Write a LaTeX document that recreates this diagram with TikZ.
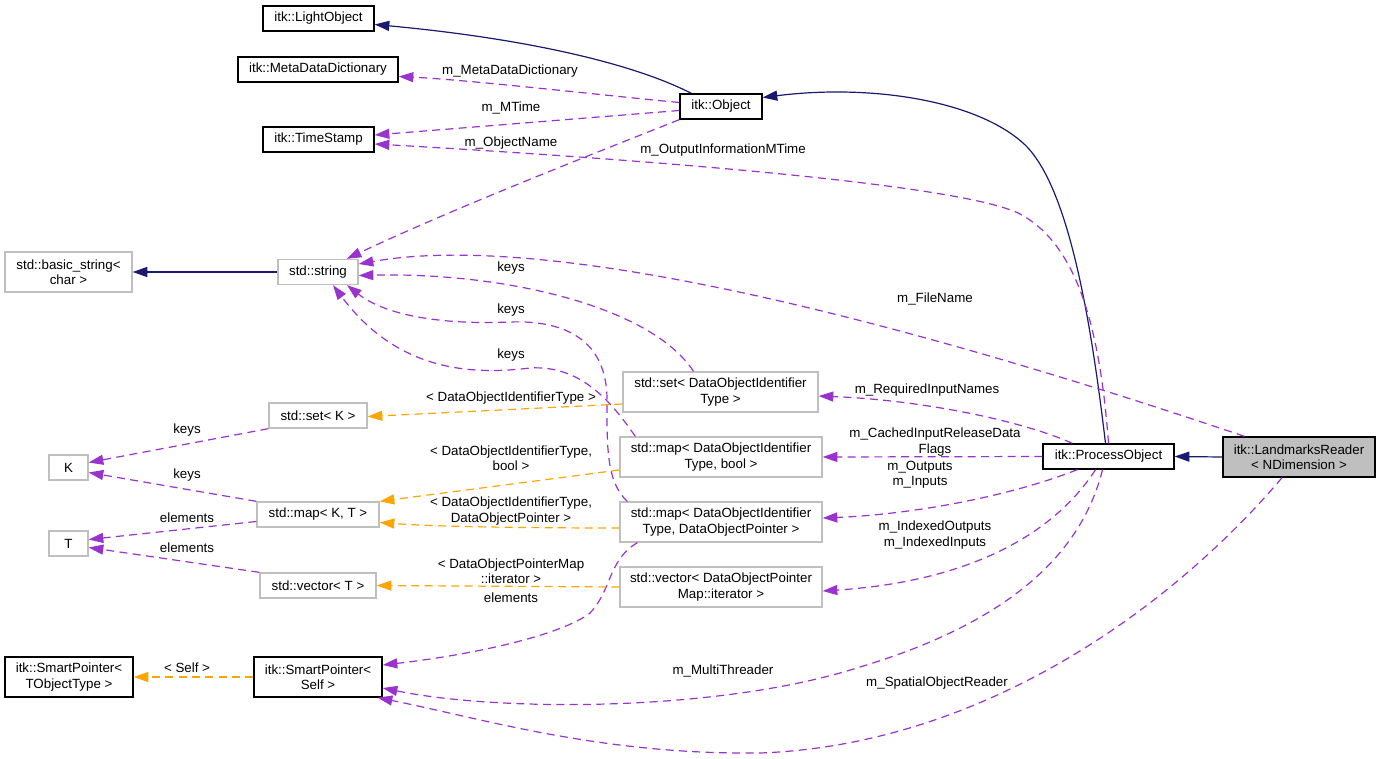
\documentclass[tikz,border=0pt]{standalone}
\usepackage{fontspec}
\setmainfont{Liberation Sans}
\definecolor{dxnavy}{RGB}{25,25,112}
\definecolor{dxorchid}{RGB}{154,50,205}
\definecolor{dxorange}{RGB}{255,165,0}
\definecolor{dxgray}{RGB}{191,191,191}
\usetikzlibrary{arrows.meta,calc}

\begin{document}
\begin{tikzpicture}[x=0.75pt, y=-0.75pt,
    cbox/.style={rectangle, draw=black, line width=1pt, inner sep=1pt, align=center,
      minimum height=18.75pt, font=\fontsize{10}{11.5}\selectfont},
    gbox/.style={cbox, draw=dxgray},
    tall/.style={minimum height=30pt},
    lbl/.style={align=center, inner sep=0pt, font=\fontsize{10}{11.5}\selectfont},
    inh/.style={-{Triangle[length=11pt,width=7.5pt]}, line width=0.9pt, dxnavy},
    usage/.style={-{Triangle[length=11pt,width=7.5pt]}, line width=0.9pt, dxorchid, dash pattern=on 6pt off 4pt},
    tmpl/.style={usage, dxorange}
  ]
  \useasboundingbox (0,0) rectangle (1380,759);

  \node[cbox, minimum width=83.25pt]  (lightobj) at (318.5,18.5) {itk::LightObject};
  \node[cbox, minimum width=120pt]    (meta)     at (318,69.5)   {itk::MetaDataDictionary};
  \node[cbox, minimum width=83.25pt]  (tstamp)   at (318.5,139.5) {itk::TimeStamp};
  \node[gbox, tall, minimum width=95.25pt] (bstr) at (68.5,272)  {std::basic\_string<\\char >};
  \node[gbox, minimum width=60pt]     (str)      at (318,272)    {std::string};
  \node[cbox, minimum width=61.5pt]   (obj)      at (721,106.5)  {itk::Object};
  \node[gbox, minimum width=73.5pt]   (setk)     at (318,415.5)  {std::set< K >};
  \node[gbox, minimum width=29.25pt]  (kk)       at (68.5,467.5) {K};
  \node[gbox, minimum width=91.5pt]   (mapkt)    at (318,514.5)  {std::map< K, T >};
  \node[gbox, minimum width=29.25pt]  (tt)       at (68.5,543.5) {T};
  \node[gbox, minimum width=87pt]     (vect)     at (318,585.5)  {std::vector< T >};
  \node[cbox, tall, minimum width=96pt] (spto)   at (69,677)     {itk::SmartPointer<\\TObjectType >};
  \node[cbox, tall, minimum width=96pt] (spself) at (318,677)    {itk::SmartPointer<\\Self >};
  \node[gbox, tall, minimum width=146.25pt] (setdoi) at (720.5,392) {std::set< DataObjectIdentifier\\Type >};
  \node[gbox, tall, minimum width=151.5pt] (mapbool) at (721,457) {std::map< DataObjectIdentifier\\Type, bool >};
  \node[gbox, tall, minimum width=151.5pt] (mapdop)  at (721,522) {std::map< DataObjectIdentifier\\Type, DataObjectPointer >};
  \node[gbox, tall, minimum width=151.5pt] (vectdop) at (721,587) {std::vector< DataObjectPointer\\Map::iterator >};
  \node[cbox, minimum width=98.25pt]  (proc)     at (1108.5,456.5) {itk::ProcessObject};
  \node[cbox, tall, fill=dxgray, minimum width=114pt] (reader) at (1299,457) {itk::LandmarksReader\\< NDimension >};

  % inheritance
  \draw[inh] ($(obj.north west)+(12,0)$) .. controls (630,62) and (520,38) .. ($(lightobj.east)+(0,6)$);
  \draw[inh] ($(proc.north)+(-3,0)$) .. controls (1092,330) and (1070,185) .. (1023,143)
    .. controls (975,100) and (870,84) .. ($(obj.east)+(0,-9)$);
  \draw[inh] (reader.west) -- (proc.east);
  \draw[inh] (str.west) -- (bstr.east);

  % members
  \draw[usage] ($(obj.west)+(0,-4)$) .. controls (600,95) and (470,80) .. ($(meta.east)+(0,7)$);
  \draw[usage] ($(obj.west)+(0,4)$) -- ($(tstamp.east)+(0,-4.5)$);
  \draw[usage] (proc.north) .. controls (1100,330) and (1078,245) .. (1020,214)
    .. controls (960,183) and (620,158) .. ($(tstamp.east)+(0,4.5)$);
  \draw[usage] (obj.south west) .. controls (590,155) and (450,210) .. ($(str.north east)+(-12,0)$);
  \draw[usage] ($(reader.north west)+(22,0)$) .. controls (900,320) and (550,230) .. ($(str.east)+(0,-8)$);
  \draw[usage] ($(setdoi.north)+(-27,0)$) .. controls (650,305) and (500,272) .. ($(str.east)+(0,3.5)$);
  \draw[usage] ($(mapdop.north west)+(8,0)$) .. controls (606,482) and (607,445) .. (607,400)
    .. controls (607,340) and (565,320) .. (510,322) .. controls (440,325) and (385,315) .. ($(str.south)+(29,0)$);
  \draw[usage] ($(mapbool.north west)+(16,0)$) .. controls (610,400) and (580,365) .. (530,368)
    .. controls (465,376) and (395,368) .. ($(str.south)+(15,0)$);
  \draw[usage] (setk.south west) -- ($(kk.east)+(0,-5)$);
  \draw[usage] (mapkt.north west) -- ($(kk.east)+(0,5)$);
  \draw[usage] ($(mapkt.west)+(0,7)$) -- ($(tt.east)+(0,-4)$);
  \draw[usage] (vect.north west) -- ($(tt.east)+(0,4)$);
  \draw[usage] ($(mapdop.south west)+(18,0)$) .. controls (608,560) and (612,590) .. (590,613)
    .. controls (560,636) and (470,655) .. ($(spself.east)+(0,-12)$);
  \draw[usage] ($(proc.south)+(-6,0)$) .. controls (1080,560) and (1000,625) .. (860,667)
    .. controls (720,712) and (500,712) .. ($(spself.east)+(0,11)$);
  \draw[usage] ($(reader.south)+(-17,0)$) .. controls (1170,610) and (980,745) .. (760,753)
    .. controls (600,755) and (480,718) .. ($(spself.south east)+(-5,0)$);
  \draw[usage] ($(proc.north west)+(30,0)$) .. controls (1020,420) and (920,400) .. ($(setdoi.east)+(0,4)$);
  \draw[usage] (proc.west) -- (mapbool.east);
  \draw[usage] ($(proc.south west)+(35,0)$) .. controls (1000,500) and (900,515) .. ($(mapdop.east)+(0,-4)$);
  \draw[usage] ($(proc.south)+(-13,0)$) .. controls (1050,540) and (960,582) .. ($(vectdop.east)+(0,4)$);

  % template instances
  \draw[tmpl] ($(setdoi.west)+(0,12)$) -- ($(setk.east)+(0,1)$);
  \draw[tmpl] ($(mapbool.west)+(0,13)$) -- (mapkt.north east);
  \draw[tmpl] ($(mapdop.west)+(0,6)$) .. controls (540,528) and (440,527) .. ($(mapkt.east)+(0,8)$);
  \draw[tmpl] (vectdop.west) -- (vect.east);
  \draw[tmpl] (spself.west) -- (spto.east);

  % edge labels
  \node[lbl] (lmeta)   at (510,71)  {m\_MetaDataDictionary};
  \node[lbl] (lmtime)  at (511,108) {m\_MTime};
  \node[lbl] (lname)   at (511,143) {m\_ObjectName};
  \node[lbl] (loutmt)  at (723,150) {m\_OutputInformationMTime};
  \node[lbl] (lfile)   at (935,299) {m\_FileName};
  \node[lbl] (lkeys1)  at (511,268) {keys};
  \node[lbl] (lkeys2)  at (511,310) {keys};
  \node[lbl] (lkeys3)  at (511,355) {keys};
  \node[lbl] (lkeys4)  at (187,430) {keys};
  \node[lbl] (lkeys5)  at (187,475) {keys};
  \node[lbl] (lelem1)  at (187,518) {elements};
  \node[lbl] (lelem2)  at (187,548) {elements};
  \node[lbl] (lelem3)  at (511,598) {elements};
  \node[lbl] (ltset)   at (511,398) {< DataObjectIdentifierType >};
  \node[lbl] (ltbool)  at (511,458) {< DataObjectIdentifierType,\\bool >};
  \node[lbl] (ltdop)   at (511,511) {< DataObjectIdentifierType,\\DataObjectPointer >};
  \node[lbl] (ltiter)  at (511,571) {< DataObjectPointerMap\\::iterator >};
  \node[lbl] (ltself)  at (187,668) {< Self >};
  \node[lbl] (lreq)    at (927,390) {m\_RequiredInputNames};
  \node[lbl] (lcache)  at (935,442) {m\_CachedInputReleaseData\\Flags};
  \node[lbl] (lio)     at (920,475) {m\_Outputs\\m\_Inputs};
  \node[lbl] (lidx)    at (935,535) {m\_IndexedOutputs\\m\_IndexedInputs};
  \node[lbl] (lthread) at (723,671) {m\_MultiThreader};
  \node[lbl] (lspat)   at (937,683) {m\_SpatialObjectReader};
\end{tikzpicture}
\end{document}
